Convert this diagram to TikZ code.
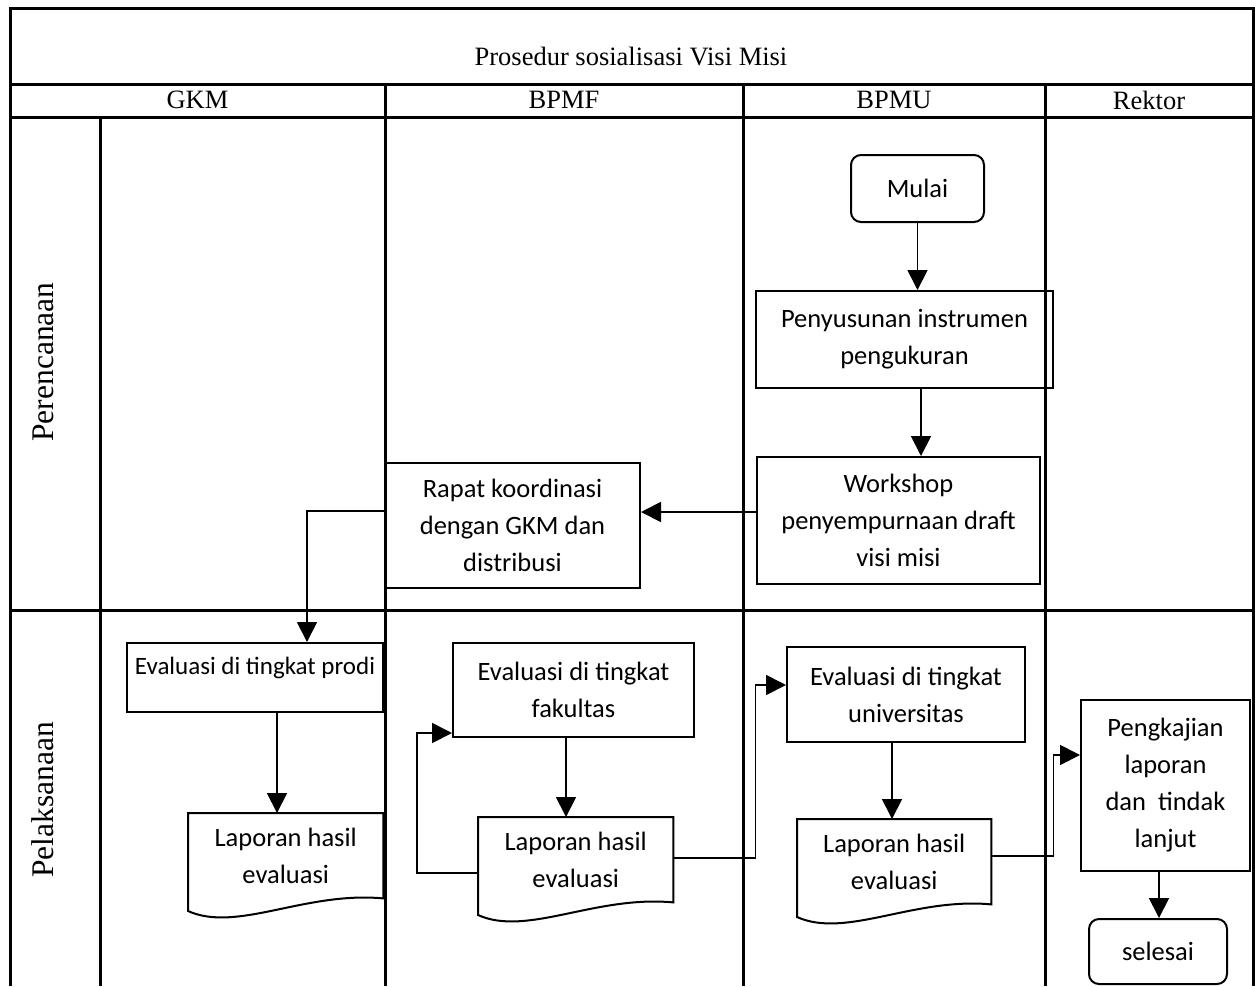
\documentclass[tikz,border=0pt]{standalone}
\usepackage{fontspec}
\setmainfont{Liberation Serif}
\newfontfamily\carl{Carlito}
\usetikzlibrary{arrows.meta,calc}
\newcommand\docpath[1]{\draw[docline] (#1.north west) -- (#1.north east) -- (#1.south east) .. controls ($(#1.north west)+(117,78)$) and ($(#1.north west)+(49,120)$) .. ($(#1.north west)+(0,98)$) -- cycle;}
\begin{document}
\begin{tikzpicture}[x=1pt,y=-1pt,
  tbl/.style={line width=3pt},
  box/.style={draw, line width=2pt, align=center, inner sep=0pt, font=\carl\fontsize{26.5}{37}\selectfont},
  rbox/.style={box, rounded corners=10pt},
  doc/.style={align=center, inner sep=0pt, font=\carl\fontsize{26.5}{37}\selectfont},
  docline/.style={line width=2pt},
  arr/.style={line width=1.8pt, -{Triangle[length=20pt,width=20pt]}},
  hdr/.style={font=\fontsize{26.5}{30}\selectfont},
  lane/.style={font=\fontsize{31.5}{36}\selectfont, rotate=90}
]
\useasboundingbox (0,0) rectangle (1255,986);
% table
\draw[tbl] (10,986) -- (10,8) -- (1253,8) -- (1253,986);
\draw[tbl] (10,84) -- (1253,84);
\draw[tbl] (10,117) -- (1253,117);
\draw[tbl] (10,610) -- (1253,610);
\draw[tbl] (100,117) -- (100,986);
\draw[tbl] (385,84) -- (385,986);
\draw[tbl] (743,84) -- (743,986);
\draw[tbl] (1045,84) -- (1045,986);
% headers
\node[hdr] (title) at (631,57) {Prosedur sosialisasi Visi Misi};
\node[hdr] (hG) at (197.5,100) {GKM};
\node[hdr] (hF) at (564,100) {BPMF};
\node[hdr] (hU) at (894,100) {BPMU};
\node[hdr] (hR) at (1149,100) {Rektor};
\node[lane] (l1) at (43,362) {Perencanaan};
\node[lane] (l2) at (43,800) {Pelaksanaan};
% nodes
\node[rbox, minimum width=133pt, minimum height=67pt] (mulai) at (917.5,188.5) {Mulai};
\node[box, minimum width=297pt, minimum height=97pt] (peny) at (904.5,339.5) {Penyusunan instrumen\\pengukuran};
\node[box, minimum width=283pt, minimum height=127pt] (work) at (898.5,520.5) {Workshop\\penyempurnaan draft\\visi misi};
\node[box, minimum width=255pt, minimum height=125pt] (rapat) at (512.5,525.5) {Rapat koordinasi\\dengan GKM dan\\distribusi};
\node[box, minimum width=256pt, minimum height=69pt, font=\carl\fontsize{25}{37}\selectfont] (prodi) at (255,677.5) {Evaluasi di tingkat prodi\\[-14pt]\mbox{}};
\node[box, minimum width=241pt, minimum height=94pt] (fak) at (573.5,690) {Evaluasi di tingkat\\fakultas};
\node[box, minimum width=238pt, minimum height=95pt] (univ) at (906,694.5) {Evaluasi di tingkat\\universitas};
\node[box, minimum width=169pt, minimum height=171pt] (peng) at (1165.5,785.5) {Pengkajian\\laporan\\dan\ \ tindak\\lanjut};
\node[rbox, minimum width=138pt, minimum height=65pt] (selesai) at (1158,951.5) {selesai};
\node[doc, minimum width=195pt, minimum height=85pt, anchor=north west] (lapG) at (188,813) {Laporan hasil\\evaluasi};
\node[doc, minimum width=195pt, minimum height=85pt, anchor=north west] (lapF) at (478,817) {Laporan hasil\\evaluasi};
\node[doc, minimum width=194pt, minimum height=85pt, anchor=north west] (lapU) at (797,819) {Laporan hasil\\evaluasi};
\docpath{lapG}
\docpath{lapF}
\docpath{lapU}
% connectors
\draw[arr] (mulai.south) -- (mulai.south |- peny.north);
\coordinate (a2) at ([xshift=16.5pt]peny.south);
\draw[arr] (a2) -- (a2 |- work.north);
\coordinate (a3) at ([yshift=8.5pt]work.west);
\draw[arr] (a3) -- (a3 -| rapat.east);
\coordinate (a4) at ([yshift=14.5pt]rapat.west);
\coordinate (a4b) at ([xshift=181pt]prodi.north west);
\draw[arr] (a4) -| (a4b);
\coordinate (a5) at ([xshift=89pt]lapG.north west);
\draw[arr] (a5 |- prodi.south) -- (a5);
\coordinate (a6) at ([xshift=88pt]lapF.north west);
\draw[arr] (a6 |- fak.south) -- (a6);
\coordinate (a7) at ([yshift=-13.5pt]lapF.west);
\coordinate (a7e) at ([yshift=-43pt]fak.west);
\draw[arr] (a7) -- ++(-61,0) |- (a7e);
\coordinate (a8) at ([yshift=1.5pt]lapF.east);
\coordinate (a8e) at ([yshift=9.5pt]univ.west);
\draw[arr] (a8) -- ++(82,0) |- (a8e);
\coordinate (a9) at ([xshift=95pt]lapU.north west);
\draw[arr] (a9 |- univ.south) -- (a9);
\coordinate (a10) at ([yshift=5.5pt]lapU.east);
\coordinate (a10e) at ([yshift=30.5pt]peng.west);
\draw[arr] (a10) -- ++(62,0) |- (a10e);
\coordinate (a11) at ([xshift=-6.5pt]peng.south);
\draw[arr] (a11) -- (a11 |- selesai.north);
\end{tikzpicture}
\end{document}
